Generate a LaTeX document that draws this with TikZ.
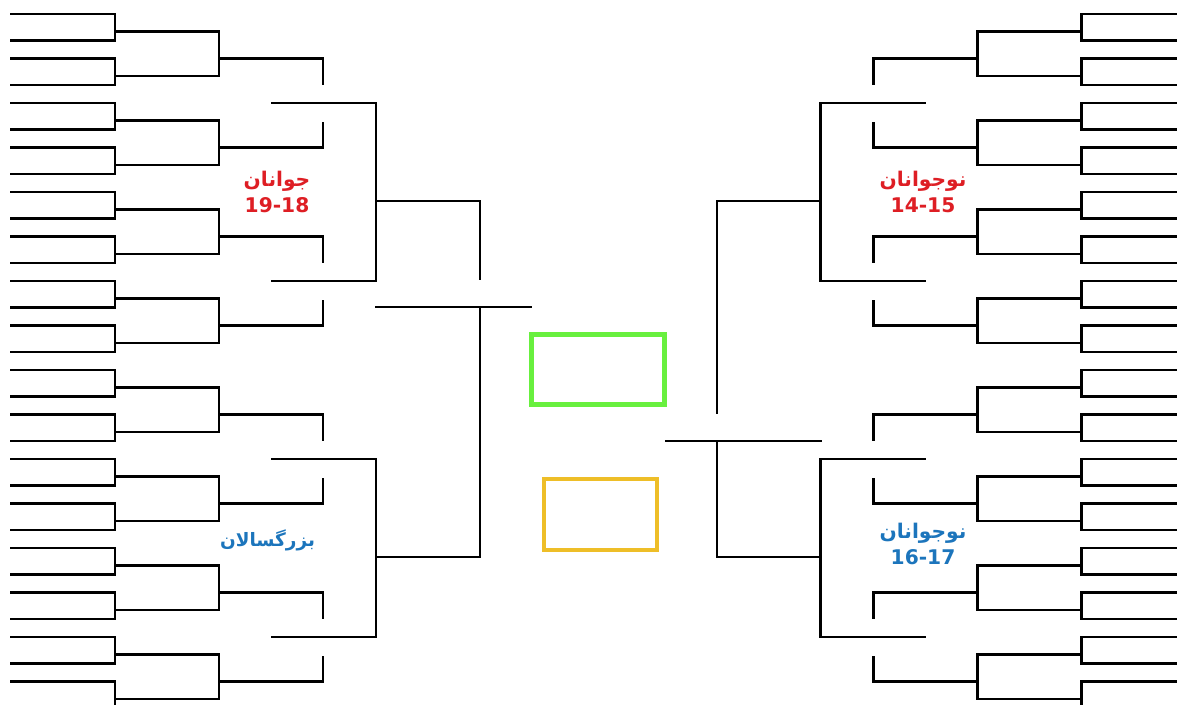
\documentclass[tikz,border=0pt]{standalone}
\usepackage{fontspec}
\newfontfamily\arabicfont[Script=Arabic]{DejaVu Sans}
\TeXXeTstate=1
\usetikzlibrary{positioning}
\definecolor{agered}{RGB}{222,30,36}
\definecolor{ageblue}{RGB}{28,117,188}
\definecolor{champgreen}{RGB}{104,240,62}
\definecolor{placegold}{RGB}{238,190,40}
\tikzset{
  bracketln/.style={line width=0.58mm, line join=miter},
  finalln/.style={line width=0.46mm},
  agelbl/.style={font=\arabicfont\bfseries\fontsize{11.5}{14.5}\selectfont,
    align=center, inner sep=1pt},
  slotbox/.style={line width=#1, inner sep=0pt},
}
\newcommand{\bracketside}[1]{%
  \foreach \i in {0,...,15}{
    \pgfmathsetmacro{\ya}{14+44.5*\i}
    \draw[bracketln] (10,\ya) -- (115,\ya) -- (115,\ya+26.5) -- (10,\ya+26.5);
  }
  \foreach \j in {0,...,7}{
    \pgfmathsetmacro{\ya}{14+89*\j}
    \pgfmathsetmacro{\tk}{26*(1-2*mod(\j,2))}
    \draw[bracketln] (115,\ya+17.5) -- (219,\ya+17.5) -- (219,\ya+62) -- (115,\ya+62);
    \draw[bracketln] (219,\ya+44.5) -- (323,\ya+44.5) -- (323,\ya+44.5+\tk);
  }
  \foreach \m in {0,1}{
    \pgfmathsetmacro{\ya}{103+356*\m}
    \draw[bracketln] (271,\ya) -- (376,\ya) -- (376,\ya+178) -- (271,\ya+178);
  }
  \draw[finalln] (376,200.7) -- (480,200.7) -- (480,#1-27);
  \draw[finalln] (376,556.7) -- (480,556.7) -- (480,#1);
  \draw[finalln] (375,#1) -- (532,#1);
}

\begin{document}
\begin{tikzpicture}[x=0.02cm, y=-0.02cm]
  \useasboundingbox (0,0) rectangle (1177,704);
  \clip (0,0) rectangle (1177,704);
  \fill[white] (0,0) rectangle (1177,704);

  \bracketside{307}
  \begin{scope}[xshift=23.94cm, xscale=-1]
    \bracketside{441}
  \end{scope}

  \node[slotbox=1mm, draw=champgreen, minimum width=2.648cm,
    minimum height=1.41cm] (champbox) at (598,369.5) {};
  \node[slotbox=0.8mm, draw=placegold, minimum width=2.276cm,
    minimum height=1.418cm] (placebox) at (600.6,514.3) {};

  \node[agelbl, text=agered] (javanan) at (277,192)
    {\beginR جوانان\endR\\19-18};
  \node[agelbl, text=agered] (nojavA) at (923,192)
    {\beginR نوجوانان\endR\\14-15};
  \node[agelbl, text=ageblue] (nojavB) at (923,544)
    {\beginR نوجوانان\endR\\16-17};
  \node[agelbl, text=ageblue, font=\arabicfont\bfseries\fontsize{10.5}{13}\selectfont]
    (bozorgsal) at (267.5,540) {\beginR بزرگسالان\endR};
\end{tikzpicture}
\end{document}
